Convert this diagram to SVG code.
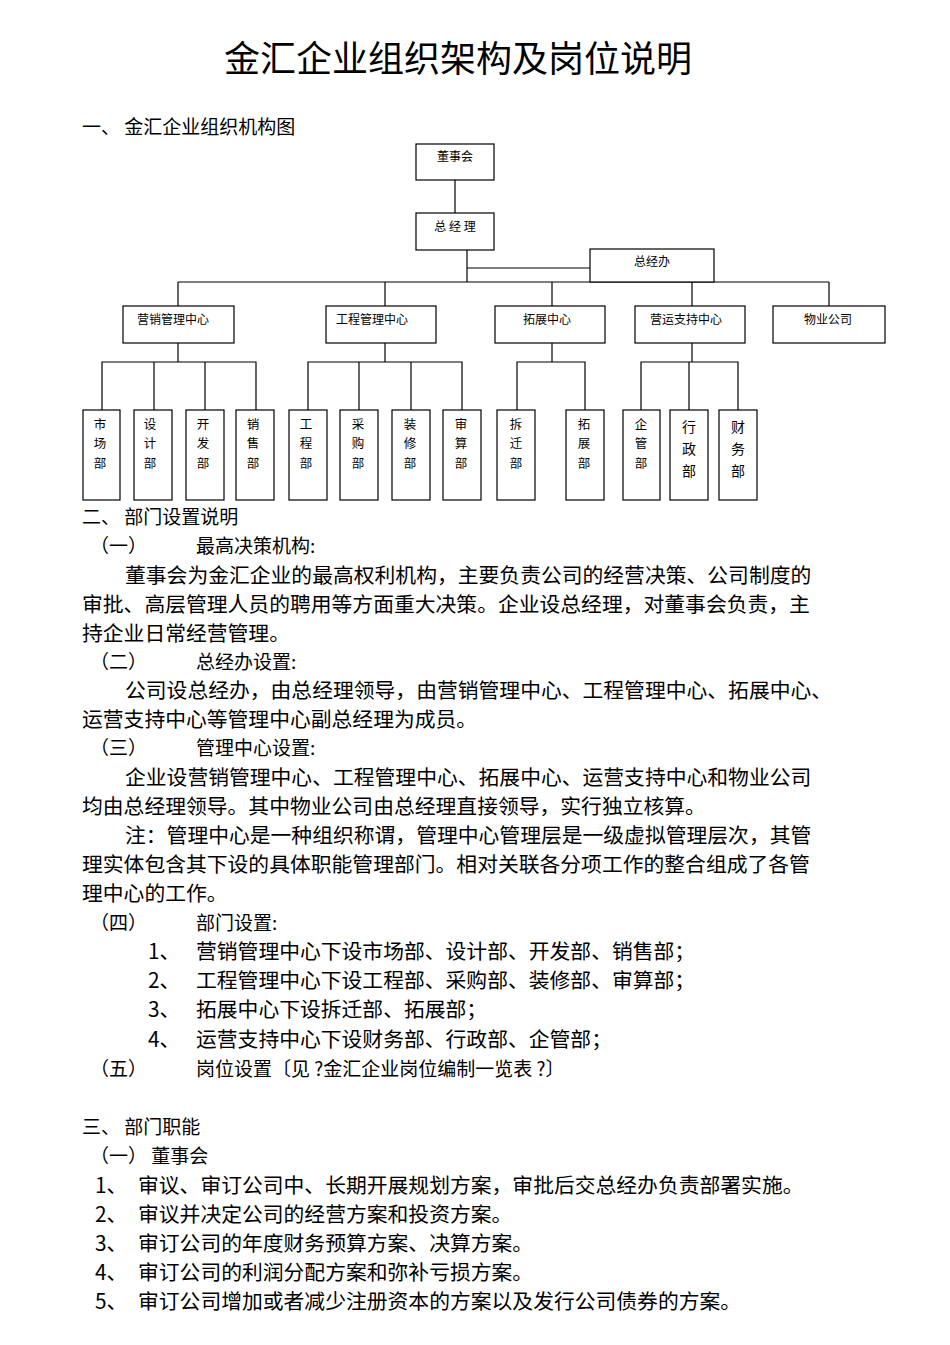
<svg xmlns="http://www.w3.org/2000/svg" width="950" height="1345" viewBox="0 0 950 1345">
<style>
text{font-family:"Noto Sans CJK SC","Liberation Sans",sans-serif;fill:#000}
.b{font-size:20.8px}
.s{font-size:12px;text-anchor:middle}
.v{font-size:12.5px;text-anchor:middle}
rect{fill:#fff;stroke:#000;stroke-width:1.2}
.c line,.c polyline{stroke:#000;stroke-width:1.2;fill:none}
</style>
<rect x="0" y="0" width="950" height="1345" style="stroke:none"/>
<text x="458" y="72" style="font-size:36px;text-anchor:middle">金汇企业组织架构及岗位说明</text>
<text class="b" x="82" y="134" style="font-size:19px">一、  金汇企业组织机构图</text>
<g class="c">
<line x1="455" y1="180" x2="455" y2="213"/>
<line x1="467" y1="250" x2="467" y2="282"/>
<line x1="467" y1="268" x2="590" y2="268"/>
<line x1="178" y1="282" x2="829" y2="282"/>
<line x1="178" y1="282" x2="178" y2="306"/>
<line x1="385" y1="282" x2="385" y2="306"/>
<line x1="552" y1="282" x2="552" y2="306"/>
<line x1="692" y1="282" x2="692" y2="306"/>
<line x1="829" y1="282" x2="829" y2="306"/>
<line x1="178" y1="343" x2="178" y2="362"/>
<line x1="385" y1="343" x2="385" y2="362"/>
<line x1="552" y1="343" x2="552" y2="362"/>
<line x1="692" y1="343" x2="692" y2="362"/>
<polyline points="102,410 102,362 256,362 256,410"/>
<line x1="154" y1="362" x2="154" y2="410"/>
<line x1="205" y1="362" x2="205" y2="410"/>
<polyline points="308,410 308,362 462,362 462,410"/>
<line x1="359" y1="362" x2="359" y2="410"/>
<line x1="411" y1="362" x2="411" y2="410"/>
<polyline points="517,410 517,362 585,362 585,410"/>
<polyline points="641,410 641,362 738,362 738,410"/>
<line x1="689" y1="362" x2="689" y2="410"/>
</g>
<g id="n-dongshihui"><rect x="416" y="144" width="78" height="36"/><text class="s" x="455" y="161">董事会</text></g>
<g id="n-zongjingli"><rect x="416" y="213" width="78" height="37"/><text class="s" x="455" y="231">总  经  理</text></g>
<g id="n-zongjingban"><rect x="590" y="249" width="124" height="33"/><text class="s" x="652" y="266">总经办</text></g>
<g id="n-yingxiao"><rect x="123" y="306" width="111" height="37"/><text class="s" x="173" y="324">营销管理中心</text></g>
<g id="n-gongcheng"><rect x="326" y="306" width="110" height="37"/><text class="s" x="372" y="324">工程管理中心</text></g>
<g id="n-tuozhan"><rect x="495" y="306" width="110" height="37"/><text class="s" x="547" y="324">拓展中心</text></g>
<g id="n-yingyun"><rect x="635" y="306" width="110" height="37"/><text class="s" x="686" y="324">营运支持中心</text></g>
<g id="n-wuye"><rect x="773" y="306" width="112" height="37"/><text class="s" x="828" y="324">物业公司</text></g>
<g id="d1"><rect x="83" y="410" width="37" height="90"/><text class="v" x="100" y="429">市</text><text class="v" x="100" y="448">场</text><text class="v" x="100" y="468">部</text></g>
<g id="d2"><rect x="134" y="410" width="38" height="90"/><text class="v" x="150" y="429">设</text><text class="v" x="150" y="448">计</text><text class="v" x="150" y="468">部</text></g>
<g id="d3"><rect x="186" y="410" width="38" height="90"/><text class="v" x="203" y="429">开</text><text class="v" x="203" y="448">发</text><text class="v" x="203" y="468">部</text></g>
<g id="d4"><rect x="236" y="410" width="38" height="90"/><text class="v" x="253" y="429">销</text><text class="v" x="253" y="448">售</text><text class="v" x="253" y="468">部</text></g>
<g id="d5"><rect x="289" y="410" width="38" height="90"/><text class="v" x="306" y="429">工</text><text class="v" x="306" y="448">程</text><text class="v" x="306" y="468">部</text></g>
<g id="d6"><rect x="340" y="410" width="38" height="90"/><text class="v" x="358" y="429">采</text><text class="v" x="358" y="448">购</text><text class="v" x="358" y="468">部</text></g>
<g id="d7"><rect x="392" y="410" width="38" height="90"/><text class="v" x="410" y="429">装</text><text class="v" x="410" y="448">修</text><text class="v" x="410" y="468">部</text></g>
<g id="d8"><rect x="443" y="410" width="38" height="90"/><text class="v" x="461" y="429">审</text><text class="v" x="461" y="448">算</text><text class="v" x="461" y="468">部</text></g>
<g id="d9"><rect x="497" y="410" width="38" height="90"/><text class="v" x="516" y="429">拆</text><text class="v" x="516" y="448">迁</text><text class="v" x="516" y="468">部</text></g>
<g id="d10"><rect x="566" y="410" width="38" height="90"/><text class="v" x="584" y="429">拓</text><text class="v" x="584" y="448">展</text><text class="v" x="584" y="468">部</text></g>
<g id="d11"><rect x="623" y="410" width="37" height="90"/><text class="v" x="641" y="429">企</text><text class="v" x="641" y="448">管</text><text class="v" x="641" y="468">部</text></g>
<g id="d12"><rect x="670" y="410" width="38" height="90"/><text class="v" x="689" y="432" style="font-size:14px">行</text><text class="v" x="689" y="454" style="font-size:14px">政</text><text class="v" x="689" y="476" style="font-size:14px">部</text></g>
<g id="d13"><rect x="719" y="410" width="38" height="90"/><text class="v" x="738" y="432" style="font-size:14px">财</text><text class="v" x="738" y="454" style="font-size:14px">务</text><text class="v" x="738" y="476" style="font-size:14px">部</text></g>
<g class="b">
<text x="82" y="524" style="font-size:19px">二、  部门设置说明</text>
<text x="90" y="553" style="font-size:19px">（一）</text><text x="196" y="553" style="font-size:19px">最高决策机构:</text>
<text x="125" y="583">董事会为金汇企业的最高权利机构，主要负责公司的经营决策、公司制度的</text>
<text x="82" y="612">审批、高层管理人员的聘用等方面重大决策。企业设总经理，对董事会负责，主</text>
<text x="82" y="641">持企业日常经营管理。</text>
<text x="90" y="669" style="font-size:19px">（二）</text><text x="196" y="669" style="font-size:19px">总经办设置:</text>
<text x="125" y="698">公司设总经办，由总经理领导，由营销管理中心、工程管理中心、拓展中心、</text>
<text x="82" y="727">运营支持中心等管理中心副总经理为成员。</text>
<text x="90" y="755" style="font-size:19px">（三）</text><text x="196" y="755" style="font-size:19px">管理中心设置:</text>
<text x="125" y="785">企业设营销管理中心、工程管理中心、拓展中心、运营支持中心和物业公司</text>
<text x="82" y="814">均由总经理领导。其中物业公司由总经理直接领导，实行独立核算。</text>
<text x="125" y="843">注：管理中心是一种组织称谓，管理中心管理层是一级虚拟管理层次，其管</text>
<text x="82" y="872">理实体包含其下设的具体职能管理部门。相对关联各分项工作的整合组成了各管</text>
<text x="82" y="901">理中心的工作。</text>
<text x="90" y="930" style="font-size:19px">（四）</text><text x="196" y="930" style="font-size:19px">部门设置:</text>
<text x="148" y="959">1、</text><text x="196" y="959">营销管理中心下设市场部、设计部、开发部、销售部；</text>
<text x="148" y="988">2、</text><text x="196" y="988">工程管理中心下设工程部、采购部、装修部、审算部；</text>
<text x="148" y="1017">3、</text><text x="196" y="1017">拓展中心下设拆迁部、拓展部；</text>
<text x="148" y="1047">4、</text><text x="196" y="1047">运营支持中心下设财务部、行政部、企管部；</text>
<text x="90" y="1076" style="font-size:19px">（五）</text><text x="196" y="1076" style="font-size:19px">岗位设置〔见 ?金汇企业岗位编制一览表  ?〕</text>
<text x="82" y="1134" style="font-size:19px">三、  部门职能</text>
<text x="90" y="1163" style="font-size:19px">（一）  董事会</text>
<text x="95" y="1193">1、</text><text x="138" y="1193">审议、审订公司中、长期开展规划方案，审批后交总经办负责部署实施。</text>
<text x="95" y="1222">2、</text><text x="138" y="1222">审议并决定公司的经营方案和投资方案。</text>
<text x="95" y="1251">3、</text><text x="138" y="1251">审订公司的年度财务预算方案、决算方案。</text>
<text x="95" y="1280">4、</text><text x="138" y="1280">审订公司的利润分配方案和弥补亏损方案。</text>
<text x="95" y="1309">5、</text><text x="138" y="1309">审订公司增加或者减少注册资本的方案以及发行公司债券的方案。</text>
</g>
</svg>
